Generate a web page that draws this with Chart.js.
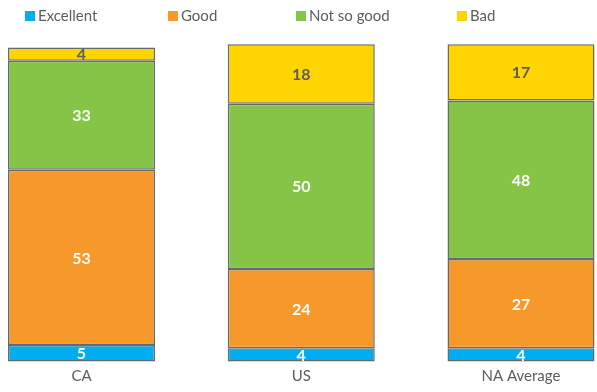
<!DOCTYPE html>
<html>
<head>
<meta charset="utf-8">
<script src="https://cdn.jsdelivr.net/npm/chart.js@4"></script>
<style>
  html, body { margin: 0; padding: 0; background: #fff; }
  #wrap { width: 597px; height: 392px; position: relative; }
</style>
</head>
<body>
<div id="wrap"><canvas id="ratingChart"></canvas></div>
<script>
const regions = ['CA', 'US', 'NA Average'];
const excellent = [5, 4, 4];
const good = [53, 24, 27];
const notSoGood = [33, 50, 48];
const bad = [4, 18, 17];

const FONT = 'Lato, "Open Sans", sans-serif';
const legendX = [25, 168, 296, 457];

// legend drawn by hand so the items can be spread like the original
const spreadLegend = {
    id: 'spreadLegend',
    afterDraw(chart) {
        const ctx = chart.ctx;
        ctx.save();
        ctx.font = '15px ' + FONT;
        ctx.textBaseline = 'middle';
        chart.data.datasets.forEach((ds, i) => {
            ctx.fillStyle = ds.backgroundColor;
            ctx.fillRect(legendX[i], 11, 10, 10);
            ctx.fillStyle = '#5a5d62';
            ctx.fillText(ds.label, legendX[i] + 13, 16);
        });
        ctx.restore();
    }
};

// value labels in the middle of each segment
const segmentLabels = {
    id: 'segmentLabels',
    afterDatasetsDraw(chart) {
        const ctx = chart.ctx;
        ctx.save();
        ctx.font = 'bold 16px ' + FONT;
        ctx.textAlign = 'center';
        ctx.textBaseline = 'middle';
        chart.data.datasets.forEach((ds, i) => {
            chart.getDatasetMeta(i).data.forEach((bar, j) => {
                ctx.fillStyle = ds.labelColor;
                ctx.fillText(ds.data[j], bar.x, (bar.y + bar.base) / 2 + 1);
            });
        });
        ctx.restore();
    }
};

const ctx = document.getElementById('ratingChart');
new Chart(ctx, {
    type: 'bar',
    data: {
        labels: regions,
        datasets: [
            { label: 'Excellent', data: excellent, backgroundColor: '#00aeef', labelColor: '#fff' },
            { label: 'Good', data: good, backgroundColor: '#f7992a', labelColor: '#fff' },
            { label: 'Not so good', data: notSoGood, backgroundColor: '#86c448', labelColor: '#fff' },
            { label: 'Bad', data: bad, backgroundColor: '#ffd500', labelColor: '#5a5d62' }
        ].map(d => Object.assign(d, {
            borderColor: '#666a6e',
            borderWidth: 1.5,
            borderSkipped: false,
            categoryPercentage: 0.669,
            barPercentage: 1,
            clip: false
        }))
    },
    options: {
        responsive: true,
        maintainAspectRatio: false,
        animation: false,
        layout: { padding: { left: 81.5, right: 76, top: 31, bottom: 7 } },
        plugins: { legend: { display: false }, tooltip: { enabled: false } },
        scales: {
            x: {
                stacked: true,
                offset: false,
                grid: { display: false, drawTicks: false },
                border: { display: false },
                ticks: { color: '#5a5d62', font: { family: FONT, size: 15 }, padding: 6 },
                afterFit(scale) { scale.height = 23.5; }
            },
            y: {
                stacked: true,
                display: false,
                min: 0,
                max: 100
            }
        }
    },
    plugins: [spreadLegend, segmentLabels]
});
</script>
</body>
</html>
